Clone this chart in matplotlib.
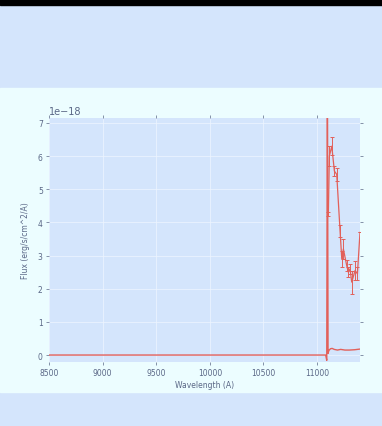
import matplotlib.pyplot as plt
import matplotlib.patches as mpatches
import numpy as np

# model spectrum (flux in units of 1e-18 erg/s/cm^2/A)
model_wave = [8500, 9000, 9500, 10000, 10500, 11000, 11080, 11090, 11096, 11102,
              11110, 11125, 11140, 11160, 11190, 11220, 11260, 11300, 11350, 11400]
model_flux = [0.0, 0.0, 0.0, 0.0, 0.0, 0.0, 0.0, -0.16, 9.0, 0.05,
              0.14, 0.19, 0.2, 0.17, 0.15, 0.17, 0.15, 0.15, 0.16, 0.18]

# observed points with errors
obs_wave = [11105, 11114, 11137, 11161, 11183, 11214, 11230, 11245,
            11276, 11291, 11307, 11323, 11354, 11376, 11400]
obs_flux = [4.25, 6.0, 6.3, 5.55, 5.45, 3.75, 2.9, 3.2,
            2.7, 2.5, 2.6, 2.2, 2.55, 2.45, 3.7]
obs_err = [0.05, 0.3, 0.28, 0.15, 0.2, 0.18, 0.25, 0.3,
           0.18, 0.15, 0.15, 0.35, 0.3, 0.2, 0.0]

scale = 1e-18
txt = '#5a6786'
red = '#e2605a'

fig = plt.figure(figsize=(3.82, 4.27), dpi=100, facecolor='#d4e5fc')
fig.patches.append(mpatches.Rectangle((0, 1 - 393/427), 1, (393 - 89)/427,
                                      transform=fig.transFigure, color='#ecfdff', zorder=-2))
fig.patches.append(mpatches.Rectangle((0, 1 - 6/427), 1, 6/427,
                                      transform=fig.transFigure, color='black', zorder=-1))

ax = fig.add_axes([49/382, 1 - 363/427, 311/382, 244/427])
ax.set_zorder(2)
ax.set_facecolor('#d4e5fc')
for s in ax.spines.values():
    s.set_visible(False)

ax.plot(model_wave, np.array(model_flux) * scale, color=red, lw=1.0)
ax.errorbar(obs_wave, np.array(obs_flux) * scale, yerr=np.array(obs_err) * scale,
            color=red, lw=0.9, elinewidth=0.7, capsize=1.6, capthick=0.7)

ax.set_xlim(8500, 11400)
ax.set_ylim(-0.21e-18, 7.15e-18)
ax.set_xticks([8500, 9000, 9500, 10000, 10500, 11000])
ax.set_yticks(np.arange(0, 8) * scale)
ax.grid(True, color='#eef5ff', lw=0.5)
ax.set_axisbelow(True)
ax.tick_params(axis='both', which='both', direction='out', length=2.5, width=0.5,
               colors=txt, labelsize=5.5, top=True, right=True, pad=2)
ax.yaxis.get_offset_text().set_fontsize(7)
ax.yaxis.get_offset_text().set_color(txt)

ax.set_xlabel('Wavelength (A)', fontsize=5.5, color=txt, labelpad=2)
ax.set_ylabel('Flux (erg/s/cm^2/A)', fontsize=5.5, color=txt, labelpad=6)

plt.savefig('out.png', dpi=100, facecolor=fig.get_facecolor())
